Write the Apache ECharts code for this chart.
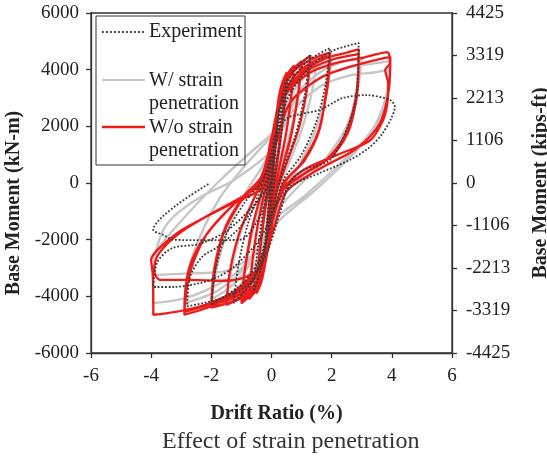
<!DOCTYPE html>
<html>
<head>
<meta charset="utf-8">
<script src="https://cdn.jsdelivr.net/npm/echarts@6/dist/echarts.min.js"></script>
<style>html,body{margin:0;padding:0;background:#fff}#c{width:547px;height:461px}</style>
</head>
<body>
<div id="c"></div>
<script>
// ---- data (drift ratio %, base moment kN-m) ----
const experiment = [
  [0,0],[0.1,1200],[0.25,2600],[0.15,1300],[0.03,0],[-0.1,-1300],[-0.25,-2600],[-0.15,-1300],[-0.03,0],
  [0.1,1300],[0.3,2800],[0.52,3700],[0.42,2500],[0.2,800],[0.02,-500],[-0.15,-1800],[-0.35,-3000],[-0.6,-3880],[-0.5,-2700],[-0.28,-1000],[-0.08,200],
  [0.15,1600],[0.4,3000],[0.7,3900],[1.28,4500],[1.1,3100],[0.8,1700],[0.4,500],[0.1,-600],[-0.2,-2000],[-0.6,-3400],[-1.26,-4240],[-1.1,-2900],[-0.8,-1500],[-0.4,-300],[-0.1,700],
  [0.25,2200],[0.6,3500],[1.2,4300],[1.94,4760],[1.8,3500],[1.5,2200],[1.0,1000],[0.4,100],[0.05,-1100],[-0.3,-2500],[-0.9,-3500],[-1.5,-3950],[-2.0,-4300],[-1.85,-3000],[-1.5,-1800],[-0.9,-700],[-0.3,100],
  [0.1,1200],[0.5,2900],[1.2,4000],[2.0,4650],[2.9,4940],[2.87,3880],[2.8,2900],[2.5,1900],[1.94,810],[1.05,450],[0.6,0],[0.28,-1060],[-0.1,-2300],[-0.7,-3500],[-1.6,-4050],[-2.8,-4350],[-2.7,-3300],[-2.3,-2600],[-1.8,-2260],[-1.0,-1500],[-0.3,-300],
  [0,800],[0.28,1980],[0.6,2330],[1.6,2580],[2.37,3000],[3.17,3100],[3.94,2930],[4.1,2680],[4.0,2330],[3.7,1765],[3.27,1270],[2.6,810],[1.6,350],[0.6,-140],[0.1,-900],[-0.4,-2000],[-1.26,-2970],[-1.8,-3320],[-2.37,-3530],[-3.27,-3670],[-3.93,-3670],
  [-3.8,-2800],[-3.3,-2300],[-2.4,-2150],[-1.5,-1700],[-0.6,-800],[0,0],
  [-0.4,-1200],[-1.05,-2000],[-2.2,-2020],[-3.27,-2000],[-3.6,-1830],[-3.93,-1660],[-2.04,0]
];
const withStrainPenetration = [
  [0,0],[0.1,1200],[0.25,2600],[0.17,1600],[0.05,400],[-0.05,-600],[-0.12,-1500],[-0.25,-2600],[-0.17,-1600],[-0.05,-400],
  [0.05,600],[0.15,1700],[0.3,2700],[0.5,3400],[0.4,2400],[0.22,1000],[0.05,-200],[-0.1,-1300],[-0.3,-2700],[-0.5,-3400],[-0.4,-2400],[-0.22,-1000],[-0.05,200],
  [0.1,1400],[0.35,2900],[0.75,3800],[0.63,2800],[0.4,1400],[0.15,100],[-0.05,-1200],[-0.35,-2900],[-0.75,-3750],[-0.63,-2700],[-0.4,-1300],[-0.15,0],
  [0.05,1200],[0.3,2600],[0.6,3500],[1.0,4000],[0.85,2900],[0.55,1500],[0.2,200],[-0.05,-1000],[-0.35,-2600],[-0.65,-3500],[-1.0,-3950],[-0.85,-2800],[-0.55,-1400],[-0.2,-100],
  [0.05,1300],[0.4,2800],[0.9,3700],[1.5,4200],[1.3,3000],[0.95,1700],[0.5,500],[0.1,-600],[-0.3,-2200],[-0.8,-3300],[-1.5,-4050],[-1.3,-2900],[-0.95,-1500],[-0.5,-300],[-0.1,800],
  [0.3,2300],[0.9,3500],[1.4,4000],[2.0,4350],[1.8,3100],[1.4,1700],[0.9,600],[0.3,-500],[-0.2,-1700],[-0.8,-3000],[-1.4,-3700],[-2.0,-4100],[-1.8,-2900],[-1.4,-1500],[-0.9,-400],[-0.3,600],
  [0.2,1700],[0.8,3100],[1.6,3900],[2.3,4250],[3.0,4450],[2.85,3200],[2.5,2000],[1.9,1000],[1.2,200],[0.4,-700],[-0.2,-1800],[-0.9,-3000],[-1.8,-3800],[-2.9,-4250],[-2.75,-3000],[-2.3,-1700],[-1.7,-500],[-1.05,400],[-0.3,1300],
  [0.28,1980],[1.0,3200],[1.8,3800],[2.6,4100],[3.3,4200],[3.9,4300],[3.85,3300],[3.5,2000],[2.6,900],[1.4,-300],[0.28,-1300],[-0.3,-2200],[-1.2,-3200],[-2.2,-3800],[-3.0,-4100],[-3.93,-4240],[-3.93,-3180],[-3.7,-1900],[-3.27,-1200],[-2.37,-500],[-1.26,100],[0.05,1200],
  [0.6,2400],[1.6,3400],[2.6,3800],[3.4,3900],[3.9,4000],[3.8,3000],[3.3,1800],[2.2,600],[1.05,-500],[0.2,-1200],[-0.5,-2400],[-1.5,-3100],[-2.9,-3200],[-3.9,-3250],[-3.85,-2500],[-3.27,-1660],[-1.7,106],[0.05,1765]
];
const withoutStrainPenetration = [
  [0,0],[0.08,1300],[0.18,2500],[0.25,3100],[0.18,2000],[0.06,500],[-0.02,-400],[-0.1,-1600],[-0.18,-2600],[-0.25,-3100],[-0.17,-2000],[-0.05,-400],
  [0.02,300],[0.1,1500],[0.2,2700],[0.32,3400],[0.5,3900],[0.42,2900],[0.28,1600],[0.12,300],[0.02,-800],[-0.1,-1900],[-0.22,-2900],[-0.34,-3500],[-0.5,-3900],[-0.42,-2800],[-0.28,-1500],[-0.12,-300],
  [0,700],[0.12,1900],[0.25,3000],[0.5,3850],[0.43,2800],[0.27,1300],[0.1,100],[-0.02,-1000],[-0.15,-2300],[-0.3,-3300],[-0.5,-3850],[-0.42,-2700],[-0.26,-1200],[-0.1,0],
  [0.02,1100],[0.15,2300],[0.3,3200],[0.5,3800],[0.75,4150],[0.66,3100],[0.48,1700],[0.25,500],[0.08,-500],[-0.06,-1700],[-0.2,-2800],[-0.4,-3600],[-0.75,-4100],[-0.66,-3000],[-0.48,-1600],[-0.25,-400],[-0.08,500],
  [0.08,1500],[0.22,2700],[0.45,3600],[0.7,4000],[1.0,4300],[0.88,3100],[0.65,1700],[0.35,500],[0.1,-600],[-0.05,-1800],[-0.22,-2900],[-0.5,-3700],[-0.75,-4000],[-1.0,-4250],[-0.88,-3000],[-0.65,-1600],[-0.35,-400],[-0.1,600],
  [0.05,1700],[0.25,2900],[0.6,3800],[1.0,4200],[0.87,3000],[0.62,1500],[0.3,300],[0.08,-800],[-0.1,-2100],[-0.35,-3200],[-0.7,-3900],[-1.0,-4150],[-0.86,-2900],[-0.6,-1400],[-0.3,-200],[-0.08,800],
  [0.1,2100],[0.35,3200],[0.75,4000],[1.3,4500],[1.18,3300],[0.9,1900],[0.5,700],[0.15,-400],[-0.05,-1800],[-0.3,-3000],[-0.8,-3900],[-1.5,-4300],[-1.38,-3100],[-1.05,-1700],[-0.6,-600],[-0.2,400],
  [0.05,1600],[0.25,2900],[0.7,3900],[1.3,4350],[1.95,4600],[1.85,3500],[1.6,1900],[1.1,800],[0.5,100],[0.12,-900],[-0.1,-2300],[-0.45,-3400],[-1.0,-4000],[-1.5,-4250],[-2.0,-4400],[-1.9,-3200],[-1.6,-1800],[-1.05,-700],[-0.45,0],
  [-0.1,900],[0.2,2500],[0.7,3700],[1.4,4300],[1.95,4500],[1.85,3300],[1.55,1800],[1.0,700],[0.4,0],[0.05,-1200],[-0.3,-2900],[-1.0,-3900],[-2.0,-4300],[-1.9,-3000],[-1.55,-1600],[-0.95,-500],[-0.35,200],
  [0,1500],[0.35,3000],[1.0,3900],[1.8,4400],[2.5,4600],[2.9,4720],[2.88,3600],[2.8,2800],[2.55,1800],[2.0,950],[1.1,350],[0.4,-200],[0.05,-1200],[-0.3,-2800],[-1.0,-3800],[-2.0,-4350],[-2.9,-4650],[-2.8,-3600],[-2.6,-2800],[-2.15,-1800],[-1.3,-800],[-0.4,0],
  [-0.05,1300],[0.3,2900],[1.1,3900],[2.0,4350],[2.9,4550],[2.85,3400],[2.7,2500],[2.4,1600],[1.8,800],[1.0,250],[0.35,-300],[0,-1500],[-0.4,-3000],[-1.2,-3900],[-2.1,-4300],[-2.9,-4550],[-2.82,-3400],[-2.55,-2500],[-2.0,-1600],[-1.2,-700],[-0.35,100],
  [0,1600],[0.4,3000],[1.2,3850],[2.2,4250],[2.95,4400],[3.5,4550],[3.85,4620],[3.94,4230],[3.78,3990],[3.88,3500],[3.85,2800],[3.7,2200],[3.27,1500],[2.2,1000],[1.05,450],[0.38,-250],[0,-1500],[-0.4,-2900],[-1.2,-3800],[-2.2,-4300],[-2.95,-4500],[-3.5,-4600],[-3.93,-4650],[-3.93,-4300],[-3.95,-3200],[-4.0,-2720],[-3.8,-2370],[-3.14,-1770],[-2.37,-1300],[-1.26,-700],[-0.28,-140],
  [0.1,1200],[0.6,2800],[1.6,3700],[2.6,4100],[3.3,4300],[3.95,4450],[3.9,3300],[3.6,2100],[2.8,1200],[1.6,500],[0.5,-300],[0.05,-1700],[-0.5,-3100],[-1.5,-3450],[-2.9,-3420],[-3.7,-3420],[-3.9,-3100],[-3.75,-2500],[-3.1,-1800],[-2.2,-1200],[-1.0,-500],[-0.2,0]
];
const rightTickLabels = ['-4425','-3319','-2213','-1106','0','1106','2213','3319','4425'];
const legendNames = ['Experiment', 'W/ strain', 'penetration', 'W/o strain', 'penetration'];
const captionText = 'Effect of strain penetration';

const SERIF = '"Liberation Serif","DejaVu Serif",serif';
const chart = echarts.init(document.getElementById('c'), null, {renderer: 'canvas'});
const axisCommon = {
  axisLine: {show: true, onZero: false, lineStyle: {color: '#333', width: 1.3}},
  axisTick: {show: true, inside: false, length: 5, lineStyle: {color: '#333', width: 1.3}},
  splitLine: {show: false},
  axisLabel: {color: '#222', fontFamily: SERIF, fontSize: 19, formatter: v => String(v)}
};
const nameStyle = {fontFamily: SERIF, fontSize: 20, fontWeight: 'bold', color: '#222'};
chart.setOption({
  animation: false,
  backgroundColor: '#fff',
  title: {text: captionText, left: 157, top: 425,
    textStyle: {fontFamily: SERIF, fontSize: 24, fontWeight: 'normal', color: '#333'}},
  grid: {left: 91, right: 95, top: 13, bottom: 108, containLabel: false, outerBoundsMode: 'none',
    show: true, borderColor: '#333', borderWidth: 1.3},
  xAxis: Object.assign({}, axisCommon, {
    type: 'value', min: -6, max: 6, interval: 2,
    name: 'Drift Ratio (%)', nameLocation: 'middle', nameGap: 51,
    nameTextStyle: Object.assign({}, nameStyle, {padding: [0, 0, 0, 10]}),
    axisLabel: Object.assign({}, axisCommon.axisLabel, {margin: 14})
  }),
  yAxis: [
    Object.assign({}, axisCommon, {
      type: 'value', min: -6000, max: 6000, interval: 2000, position: 'left',
      name: 'Base Moment (kN-m)', nameLocation: 'middle', nameGap: 59, nameRotate: 90,
      nameTextStyle: Object.assign({}, nameStyle, {padding: [0, 40, 0, 0]}),
      axisLabel: Object.assign({}, axisCommon.axisLabel, {margin: 12})
    }),
    Object.assign({}, axisCommon, {
      type: 'value', min: -4425, max: 4425, interval: 1106.25, position: 'right',
      name: 'Base Moment (kips-ft)', nameLocation: 'middle', nameGap: 79, nameRotate: 90,
      nameTextStyle: nameStyle,
      axisLabel: Object.assign({}, axisCommon.axisLabel, {margin: 14,
        formatter: v => rightTickLabels[Math.round((v + 4425) / 1106.25)]})
    })
  ],
  series: [
    {name: 'W/ strain penetration', type: 'line', data: withStrainPenetration, showSymbol: false, smooth: 0.3,
      lineStyle: {color: '#c6c6c6', width: 2.4}, z: 2},
    {name: 'W/o strain penetration', type: 'line', data: withoutStrainPenetration, showSymbol: false, smooth: 0.3,
      lineStyle: {color: '#ef1b1b', width: 2.3}, z: 3},
    {name: 'Experiment', type: 'line', data: experiment, showSymbol: false, smooth: 0.3,
      lineStyle: {color: '#3a3a3a', width: 1.8, type: 'dotted'}, z: 4}
  ],
  graphic: {elements: [
    {type: 'rect', shape: {x: 96, y: 16, width: 149, height: 149}, style: {fill: 'rgba(255,255,255,0)', stroke: '#333', lineWidth: 1}, z: 10},
    {type: 'line', shape: {x1: 102, y1: 32, x2: 145, y2: 32}, style: {stroke: '#3a3a3a', lineWidth: 1.8, lineDash: [1.8, 2.2]}, z: 10},
    {type: 'line', shape: {x1: 102, y1: 80, x2: 145, y2: 80}, style: {stroke: '#c6c6c6', lineWidth: 2.2}, z: 10},
    {type: 'line', shape: {x1: 102, y1: 127, x2: 145, y2: 127}, style: {stroke: '#ef1b1b', lineWidth: 2.4}, z: 10},
    {type: 'text', x: 149, y: 32, style: {text: legendNames[0], font: '20px ' + SERIF, fill: '#222', verticalAlign: 'middle'}, z: 10},
    {type: 'text', x: 149, y: 81, style: {text: legendNames[1], font: '20px ' + SERIF, fill: '#222', verticalAlign: 'middle'}, z: 10},
    {type: 'text', x: 149, y: 104, style: {text: legendNames[2], font: '20px ' + SERIF, fill: '#222', verticalAlign: 'middle'}, z: 10},
    {type: 'text', x: 149, y: 128, style: {text: legendNames[3], font: '20px ' + SERIF, fill: '#222', verticalAlign: 'middle'}, z: 10},
    {type: 'text', x: 149, y: 151, style: {text: legendNames[4], font: '20px ' + SERIF, fill: '#222', verticalAlign: 'middle'}, z: 10}
  ]}
});
</script>
</body>
</html>
